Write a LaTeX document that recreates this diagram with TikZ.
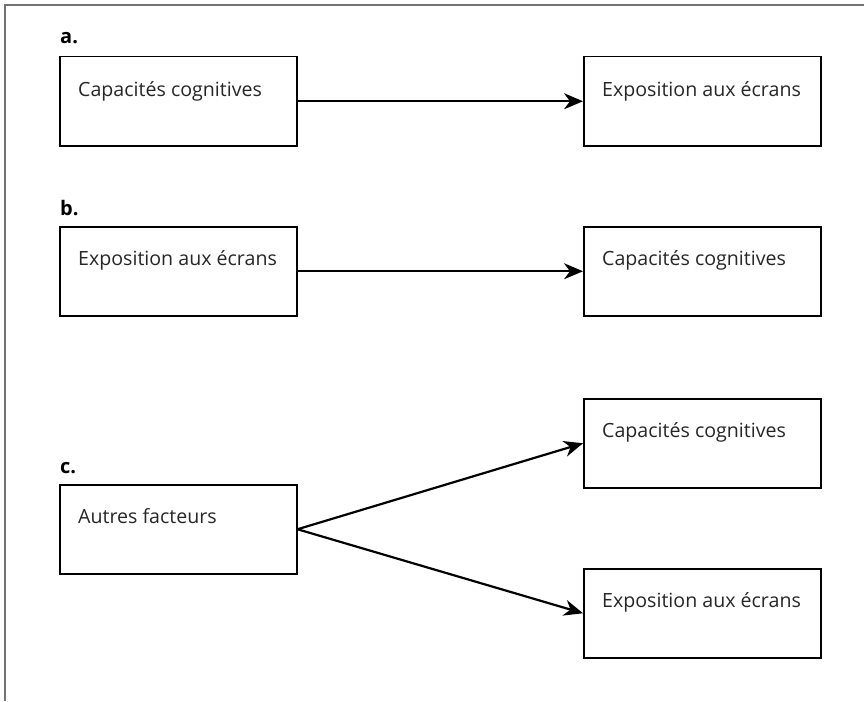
\documentclass[tikz,border=0pt]{standalone}
\usepackage{fontspec}
\setmainfont{Open Sans}
\usetikzlibrary{arrows.meta}
\begin{document}
\begin{tikzpicture}[x=1pt,y=-1pt,
  box/.style={draw=black, line width=1.5pt, minimum width=237pt, minimum height=89pt, inner sep=0pt, anchor=north west},
  txt/.style={anchor=base west, inner sep=0pt, font=\fontsize{19.6}{22}\selectfont, text=black!85},
  tag/.style={anchor=base west, inner sep=0pt, font=\bfseries\fontsize{20}{22}\selectfont},
  arr/.style={line width=2.2pt, -{Stealth[length=19pt,width=16pt,inset=6pt]}},
  frame/.style={draw=black!55, line width=1.6pt}]
\useasboundingbox (0,0) rectangle (864,701);
\coordinate (f1) at (864,5);
\coordinate (f2) at (5,5);
\coordinate (f3) at (5,701);
\draw[frame] (f1) -- (f2) -- (f3);
% a
\node[tag] (la) at (60,44) {a.};
\node[box] (a1) at (59,56) {};
\node[box] (a2) at (583,56) {};
\node[txt] (a1t) at (78,96) {Capacités cognitives};
\node[txt] (a2t) at (602,96) {Exposition aux écrans};
\draw[arr] (a1.east) -- (a2.west);
% b
\node[tag] (lb) at (60,215) {b.};
\node[box] (b1) at (59,226) {};
\node[box] (b2) at (583,226) {};
\node[txt] (b1t) at (78,265) {Exposition aux écrans};
\node[txt] (b2t) at (602,265) {Capacités cognitives};
\draw[arr] (b1.east) -- (b2.west);
% c
\node[tag] (lc) at (60,473) {c.};
\node[box] (c1) at (59,484) {};
\node[box] (c2) at (583,398) {};
\node[box] (c3) at (583,568) {};
\node[txt] (c1t) at (78,523) {Autres facteurs};
\node[txt] (c2t) at (602,437) {Capacités cognitives};
\node[txt] (c3t) at (602,607) {Exposition aux écrans};
\draw[arr] (c1.east) -- (c2.west);
\draw[arr] (c1.east) -- (c3.west);
\end{tikzpicture}
\end{document}
